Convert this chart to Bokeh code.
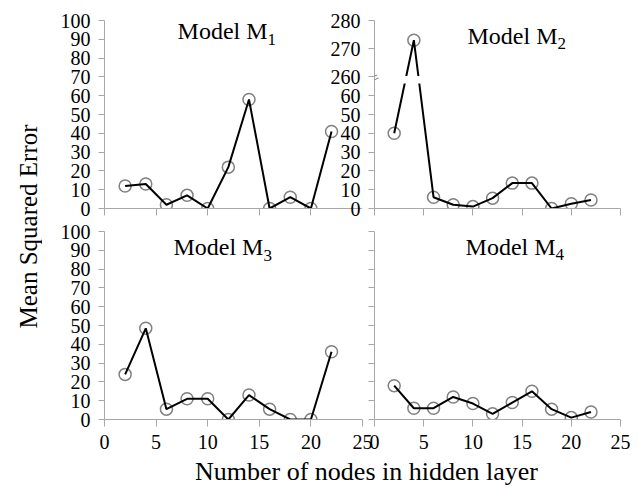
import math
import numpy as np
from bokeh.plotting import figure
from bokeh.layouts import row, column
from bokeh.models import Range1d, FixedTicker, Label, BoxAnnotation, CustomJSTickFormatter
from bokeh.embed import file_html
from bokeh.resources import INLINE

# ---------------- data ----------------
nodes = [2, 4, 6, 8, 10, 12, 14, 16, 18, 20, 22]
mse_m1 = [12, 13, 2, 7, 0, 22, 58, 0, 6, 0, 41]
mse_m2 = [40, 273, 6, 2, 1, 5.5, 13.5, 13.5, 0, 2.5, 4.5]
mse_m3 = [24, 48.5, 5.5, 11, 11, 0, 13, 5.5, 0, 0, 36]
mse_m4 = [18, 6, 6, 12, 8.5, 3, 9, 15, 5.5, 1, 4]
model_names = ["1", "2", "3", "4"]
x_ticks = [0, 5, 10, 15, 20, 25]
y_ticks = [0, 10, 20, 30, 40, 50, 60, 70, 80, 90, 100]
m2_low_ticks = [0, 10, 20, 30, 40, 50, 60]
m2_high_ticks = [260, 270, 280]

# broken axis for model M2: 0..60 linear, then 260..280 compressed on top
LOW_MAX = 60
HIGH_MIN = 260
HIGH_POS = 70.0
HIGH_SCALE = 1.5


def brk(v):
    v = np.asarray(v, dtype=float)
    return np.where(v > LOW_MAX, HIGH_POS + (v - HIGH_MIN) * HIGH_SCALE, v)


FONT = "Liberation Serif"
AXIS_GRAY = "#a8a8a8"
MARK_GRAY = "#808080"


def make_panel(width, height, mb, show_x_labels, show_y_labels):
    p = figure(width=width, height=height, x_range=Range1d(0, 25), y_range=Range1d(0, 100),
               output_backend="svg", toolbar_location=None,
               min_border_left=mb[0], min_border_right=mb[1],
               min_border_top=mb[2], min_border_bottom=mb[3])
    p.outline_line_color = None
    p.grid.visible = False
    p.border_fill_color = None
    p.background_fill_color = None
    p.xaxis.ticker = FixedTicker(ticks=x_ticks)
    p.yaxis.ticker = FixedTicker(ticks=y_ticks)
    for ax in p.axis:
        ax.axis_line_color = AXIS_GRAY
        ax.axis_line_width = 1
        ax.major_tick_line_color = AXIS_GRAY
        ax.minor_tick_line_color = None
        ax.major_tick_in = 0
        ax.major_label_text_font = FONT
        ax.major_label_text_font_size = "20px"
        ax.major_label_text_color = "black"
    p.xaxis.major_tick_out = 7
    p.yaxis.major_tick_out = 6
    p.xaxis.major_label_standoff = 8
    p.yaxis.major_label_standoff = 8
    if not show_x_labels:
        p.xaxis.formatter = CustomJSTickFormatter(code="return ''")
        p.xaxis.major_label_standoff = 0
    if not show_y_labels:
        p.yaxis.formatter = CustomJSTickFormatter(code="return ''")
    return p


def draw_series(p, xs, ys):
    p.scatter(xs, ys, marker="circle", size=12, fill_color=None,
              line_color=MARK_GRAY, line_width=1.5)
    p.line(xs, ys, line_color="black", line_width=2)


def add_title(p, sub, x, y):
    p.add_layout(Label(x=x, y=y, text="Model M", text_align="right", text_baseline="middle",
                       text_font=FONT, text_font_size="24px", text_color="black"))
    p.add_layout(Label(x=x, y=y, y_offset=-8, text=sub, text_align="left",
                       text_baseline="middle", text_font=FONT, text_font_size="17px",
                       text_color="black"))


# panels: (left, right, top, bottom) min borders
p1 = make_panel(320, 220, (62, 0, 20, 12), False, True)
p2 = make_panel(306, 220, (50, 10, 20, 12), False, True)
p3 = make_panel(332, 239, (62, 12, 11, 40), True, True)
p4 = make_panel(264, 239, (8, 10, 11, 40), True, False)

draw_series(p1, nodes, mse_m1)
draw_series(p2, nodes, brk(mse_m2))
draw_series(p3, nodes, mse_m3)
draw_series(p4, nodes, mse_m4)

# broken axis ticks for M2
m2_ticks = list(brk(m2_low_ticks)) + list(brk(m2_high_ticks))
p2.yaxis.ticker = FixedTicker(ticks=m2_ticks)
p2.yaxis.major_label_overrides = {float(t): str(v) for t, v in
                                  zip(m2_ticks, m2_low_ticks + m2_high_ticks)}
# gap in the line where it crosses the break, and the break mark on the axis
p2.add_layout(BoxAnnotation(bottom=HIGH_POS - 3.5, top=HIGH_POS + 0.5, left=1,
                            fill_color="white", fill_alpha=1, line_color=None))
p2.add_layout(Label(x=0, y=HIGH_POS - 0.5, text="=", angle=0.45, text_align="center",
                    text_baseline="middle", text_font=FONT, text_font_size="16px",
                    text_color=MARK_GRAY))

add_title(p1, model_names[0], 15.8, 94.2)
add_title(p2, model_names[1], 18.6, 92.0)
add_title(p3, model_names[2], 15.4, 91.5)
add_title(p4, model_names[3], 18.4, 92.0)

p2.margin = (0, 0, 0, -38)
p4.margin = (0, 0, 0, -8)

BOTTOM_H = 38
BOTTOM_OVERLAP = 12
TOTAL_H = 220 + 239 + BOTTOM_H - BOTTOM_OVERLAP

# shared axis titles
left = figure(width=42, height=TOTAL_H, x_range=Range1d(0, 42), y_range=Range1d(0, TOTAL_H),
              output_backend="svg", toolbar_location=None, x_axis_type=None, y_axis_type=None,
              min_border=0)
left.outline_line_color = None
left.grid.visible = False
left.add_layout(Label(x=27.5, y=TOTAL_H - 226, text="Mean Squared Error", angle=math.pi / 2,
                      text_align="center", text_baseline="middle", text_font=FONT,
                      text_font_size="25px", text_color="black"))

bottom = figure(width=588, height=BOTTOM_H, x_range=Range1d(0, 588), y_range=Range1d(0, BOTTOM_H),
                output_backend="svg", toolbar_location=None, x_axis_type=None, y_axis_type=None,
                min_border=0)
bottom.outline_line_color = None
bottom.grid.visible = False
bottom.border_fill_color = None
bottom.background_fill_color = None
bottom.margin = (-BOTTOM_OVERLAP, 0, 0, 0)
bottom.add_layout(Label(x=366 - 42, y=TOTAL_H - 471, text="Number of nodes in hidden layer",
                        text_align="center", text_baseline="middle", text_font=FONT,
                        text_font_size="26px", text_color="black"))

layout = row(left, column(row(p1, p2), row(p3, p4), bottom))

open("out.html", "w").write(file_html(layout, INLINE))
